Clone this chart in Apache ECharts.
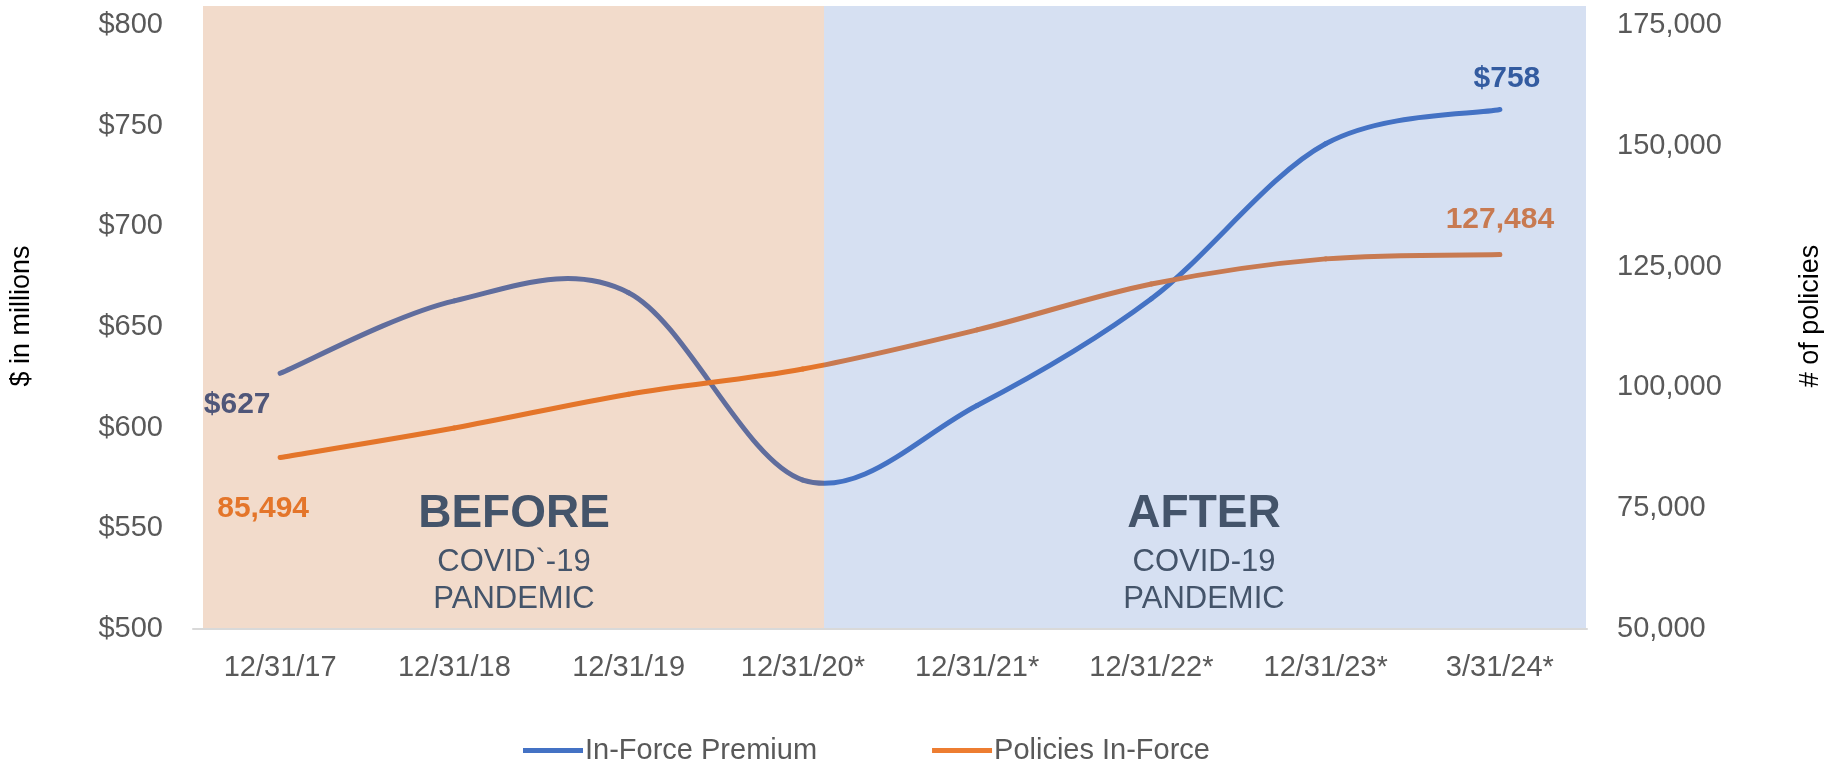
<!DOCTYPE html>
<html>
<head>
<meta charset="utf-8">
<script src="https://cdn.jsdelivr.net/npm/echarts@6/dist/echarts.min.js"></script>
<style>
  html, body { margin: 0; padding: 0; background: #fff; }
  #chart { width: 1833px; height: 762px; }
</style>
</head>
<body>
<div id="chart"></div>
<script>
// categories and values
var dates = ['12/31/17', '12/31/18', '12/31/19', '12/31/20*', '12/31/21*', '12/31/22*', '12/31/23*', '3/31/24*'];
var premium = [627, 663, 667, 574, 611, 664, 741, 758];          // $ in millions
var policies = [85494, 91600, 98600, 103800, 111900, 121400, 126600, 127484];
var premiumTicks = [500, 800, 50];
var policyTicks = [50000, 175000, 25000];

var gray = '#595959';
var slate = '#44546A';
var FONT = 'Liberation Sans, Arial, sans-serif';

// excel style smoothed line: one bezier per segment, control points from the neighbours
function smoothLine(values, color, labels) {
    return function (params, api) {
        var i = params.dataIndex, n = values.length;
        var pts = values.map(function (v, j) { return api.coord([j, v]); });
        var kids = [];
        if (i < n - 1) {
            var p0 = pts[Math.max(i - 1, 0)], p1 = pts[i], p2 = pts[i + 1], p3 = pts[Math.min(i + 2, n - 1)];
            kids.push({
                type: 'bezierCurve',
                shape: {
                    x1: p1[0], y1: p1[1], x2: p2[0], y2: p2[1],
                    cpx1: p1[0] + (p2[0] - p0[0]) / 6, cpy1: p1[1] + (p2[1] - p0[1]) / 6,
                    cpx2: p2[0] - (p3[0] - p1[0]) / 6, cpy2: p2[1] - (p3[1] - p1[1]) / 6
                },
                style: { stroke: color, lineWidth: 5, fill: null, lineCap: 'round' }
            });
        }
        var lb = labels[i];
        if (lb) {
            kids.push({
                type: 'text',
                x: pts[i][0] + lb.dx, y: pts[i][1] + lb.dy,
                style: { text: lb.text, fill: lb.color, font: 'bold 30px ' + FONT, align: 'center', verticalAlign: 'middle' }
            });
        }
        return { type: 'group', children: kids };
    };
}

var premiumLabels = {};
premiumLabels[0] = { text: '$' + premium[0], dx: -43, dy: 31, color: '#2F5597' };
premiumLabels[premium.length - 1] = { text: '$' + premium[premium.length - 1], dx: 7, dy: -31, color: '#2F5597' };
var policyLabels = {};
policyLabels[0] = { text: policies[0].toLocaleString('en-US'), dx: -17, dy: 51, color: '#ED7D31' };
policyLabels[policies.length - 1] = { text: policies[policies.length - 1].toLocaleString('en-US'), dx: 0, dy: -35, color: '#ED7D31' };

var chart = echarts.init(document.getElementById('chart'));
chart.setOption({
    animation: false,
    textStyle: { fontFamily: FONT },
    grid: { left: 193, right: 246, top: 25, bottom: 133 },
    legend: {
        left: 518,
        top: 731,
        itemWidth: 60,
        itemHeight: 5,
        itemGap: 115,
        icon: 'rect',
        textStyle: { color: gray, fontSize: 29, padding: [0, 0, 0, -3] },
        data: ['In-Force Premium', 'Policies In-Force']
    },
    xAxis: {
        type: 'category',
        data: dates,
        axisLine: { lineStyle: { color: '#D9D9D9', width: 2 } },
        axisTick: { show: false },
        axisLabel: { color: gray, fontSize: 29, margin: 24 }
    },
    yAxis: [{
        type: 'value',
        min: premiumTicks[0], max: premiumTicks[1], interval: premiumTicks[2],
        name: '$ in millions',
        nameLocation: 'middle',
        nameRotate: 90,
        nameGap: 158,
        nameTextStyle: { color: '#000', fontSize: 27, padding: [0, 0, 0, 22] },
        axisLine: { show: false },
        axisTick: { show: false },
        splitLine: { show: false },
        axisLabel: { color: gray, fontSize: 29, margin: 30, formatter: function (v) { return '$' + v; } }
    }, {
        type: 'value',
        min: policyTicks[0], max: policyTicks[1], interval: policyTicks[2],
        name: '# of policies',
        nameLocation: 'middle',
        nameRotate: 90,
        nameGap: 210,
        nameTextStyle: { color: '#000', fontSize: 27, padding: [0, 0, 0, 22] },
        axisLine: { show: false },
        axisTick: { show: false },
        splitLine: { show: false },
        axisLabel: { color: gray, fontSize: 29, margin: 30, formatter: function (v) { return v.toLocaleString('en-US'); } }
    }],
    series: [{
        name: 'In-Force Premium',
        type: 'custom',
        yAxisIndex: 0,
        itemStyle: { color: '#4472C4' },
        encode: { x: 0, y: 1 },
        renderItem: smoothLine(premium, '#4472C4', premiumLabels),
        data: premium.map(function (v, i) { return [i, v]; })
    }, {
        name: 'Policies In-Force',
        type: 'custom',
        yAxisIndex: 1,
        itemStyle: { color: '#ED7D31' },
        encode: { x: 0, y: 1 },
        renderItem: smoothLine(policies, '#ED7D31', policyLabels),
        data: policies.map(function (v, i) { return [i, v]; })
    }],
    graphic: [
        // translucent before / after panels laid over the lines
        { type: 'rect', z: 100, silent: true, shape: { x: 203, y: 6, width: 621, height: 622 },
          style: { fill: 'rgba(197,90,17,0.22)' } },
        { type: 'rect', z: 100, silent: true, shape: { x: 824, y: 6, width: 762, height: 622 },
          style: { fill: 'rgba(68,114,196,0.22)' } },
        { type: 'text', z: 110, x: 514, y: 514, style: { text: 'BEFORE', fill: slate, font: 'bold 46px ' + FONT, align: 'center', verticalAlign: 'middle' } },
        { type: 'text', z: 110, x: 514, y: 562, style: { text: 'COVID`-19', fill: slate, font: '31px ' + FONT, align: 'center', verticalAlign: 'middle' } },
        { type: 'text', z: 110, x: 514, y: 599, style: { text: 'PANDEMIC', fill: slate, font: '31px ' + FONT, align: 'center', verticalAlign: 'middle' } },
        { type: 'text', z: 110, x: 1204, y: 514, style: { text: 'AFTER', fill: slate, font: 'bold 46px ' + FONT, align: 'center', verticalAlign: 'middle' } },
        { type: 'text', z: 110, x: 1204, y: 562, style: { text: 'COVID-19', fill: slate, font: '31px ' + FONT, align: 'center', verticalAlign: 'middle' } },
        { type: 'text', z: 110, x: 1204, y: 599, style: { text: 'PANDEMIC', fill: slate, font: '31px ' + FONT, align: 'center', verticalAlign: 'middle' } }
    ]
});
</script>
</body>
</html>
